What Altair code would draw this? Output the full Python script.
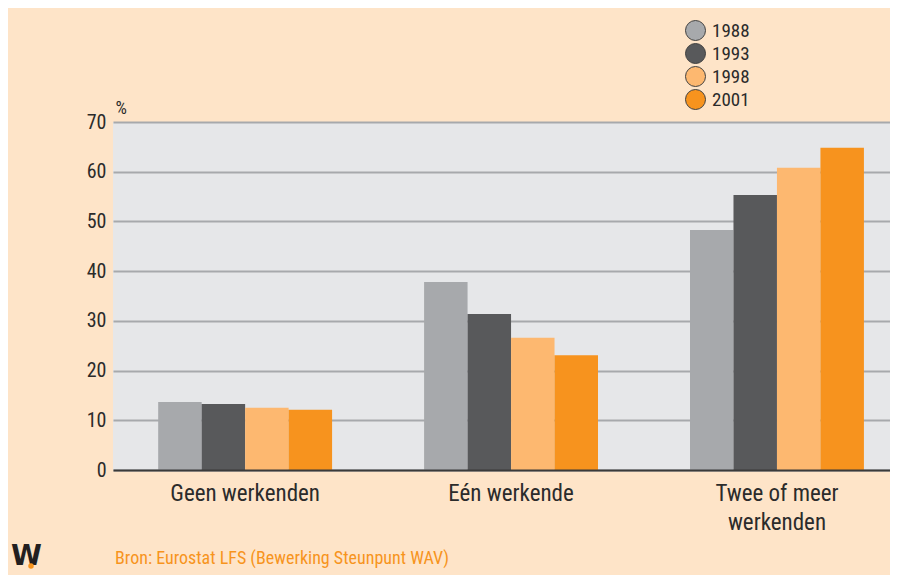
import altair as alt
import pandas as pd

categories = ["Geen werkenden", "Eén werkende", "Twee of meer werkenden"]
years = ["1988", "1993", "1998", "2001"]
values = {
    "1988": [13.7, 37.8, 48.3],
    "1993": [13.3, 31.4, 55.3],
    "1998": [12.5, 26.6, 60.8],
    "2001": [12.1, 23.1, 64.8],
}
colors = ["#A7A9AC", "#58595B", "#FDB870", "#F7931E"]
y_ticks = [0, 10, 20, 30, 40, 50, 60, 70]
source_text = "Bron: Eurostat LFS (Bewerking Steunpunt WAV)"

rows = []
for y in years:
    for c, v in zip(categories, values[y]):
        rows.append({"categorie": c, "jaar": y, "waarde": v})
df = pd.DataFrame(rows)

FONT = "Liberation Sans Narrow, Roboto Condensed, Liberation Sans, sans-serif"
TXT = "#2b2b2b"

bars = alt.Chart(df).mark_bar().encode(
    x=alt.X(
        "categorie:N",
        sort=categories,
        scale=alt.Scale(paddingInner=0.346, paddingOuter=0.134, align=0.634),
        axis=alt.Axis(
            title=None,
            labelAngle=0,
            labelFontSize=23,
            labelColor=TXT,
            labelFont=FONT,
            labelPadding=12,
            labelLineHeight=29,
            labelExpr="datum.label == 'Twee of meer werkenden' ? ['Twee of meer', 'werkenden'] : datum.label",
            ticks=False,
            domainColor="#3a3a3a",
            domainWidth=2,
            zindex=1,
        ),
    ),
    xOffset=alt.XOffset("jaar:N", sort=years, scale=alt.Scale(paddingInner=0, paddingOuter=0)),
    y=alt.Y(
        "waarde:Q",
        scale=alt.Scale(domain=[0, 70], nice=False),
        axis=alt.Axis(
            values=y_ticks,
            title="%",
            titleAngle=0,
            titleX=2,
            titleY=-5,
            titleAlign="left",
            titleBaseline="bottom",
            titleFontSize=18,
            titleFontWeight="normal",
            titleColor=TXT,
            titleFont=FONT,
            labelFontSize=20,
            labelColor=TXT,
            labelFont=FONT,
            labelPadding=7,
            ticks=False,
            domain=False,
            grid=True,
            gridColor="#A7A9AC",
            gridWidth=2,
        ),
    ),
    color=alt.Color(
        "jaar:N",
        sort=years,
        scale=alt.Scale(domain=years, range=colors),
        legend=alt.Legend(
            title=None,
            orient="none",
            legendX=572,
            legendY=-102,
            symbolType="circle",
            symbolSize=400,
            symbolStrokeColor="#404040",
            symbolStrokeWidth=1,
            symbolOpacity=1,
            labelFontSize=19,
            labelColor=TXT,
            labelFont=FONT,
            labelOffset=6,
            rowPadding=-4,
        ),
    ),
)

src = alt.Chart(pd.DataFrame({"t": [source_text]})).mark_text(
    align="left", baseline="middle", fontSize=18, color="#F7941D", font=FONT
).encode(text="t:N", x=alt.value(2), y=alt.value(437))

logo = alt.Chart(pd.DataFrame({"t": ["W"]})).mark_text(
    align="left", baseline="middle", fontSize=28, color="#231F20", font="DejaVu Sans", fontWeight="bold"
).encode(text="t:N", x=alt.value(-102), y=alt.value(435))

dot = alt.Chart(pd.DataFrame({"t": ["dot"]})).mark_circle(
    size=30, color="#F7941D", opacity=1
).encode(x=alt.value(-82), y=alt.value(444))

chart = alt.layer(bars, src, logo, dot).properties(
    width=777,
    height=348,
    autosize=alt.AutoSizeParams(type="none"),
    padding={"left": 105, "top": 114, "right": 0, "bottom": 105},
    background="#FEE4C8",
).configure_view(fill="#E6E7E9", stroke=None)

chart.save("out.html", embed_options={"renderer": "svg", "actions": False})
